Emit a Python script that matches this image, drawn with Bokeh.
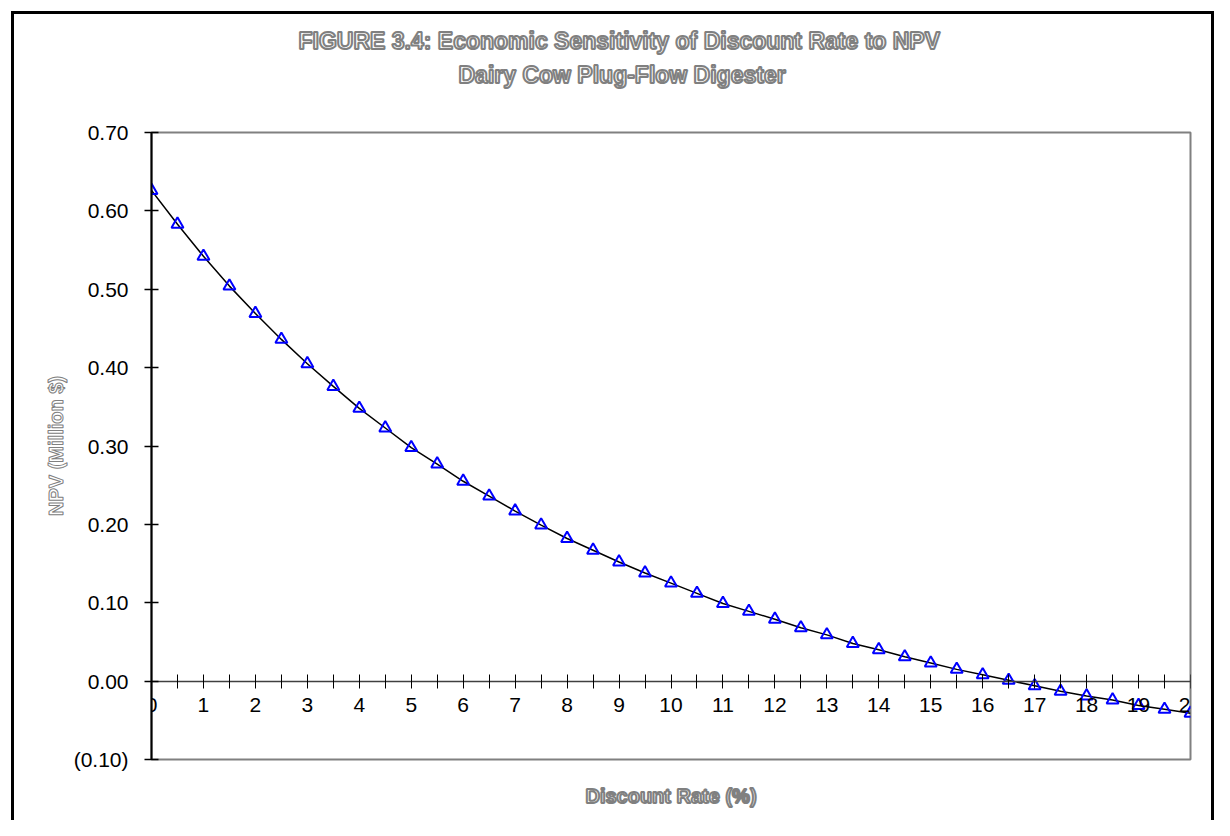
from bokeh.plotting import figure
from bokeh.models import (Range1d, LinearAxis, FixedTicker, CustomJSTickFormatter, Title)
from bokeh.embed import file_html
from bokeh.resources import INLINE

discount_rate = [0, 0.5, 1, 1.5, 2, 2.5, 3, 3.5, 4, 4.5, 5, 5.5, 6, 6.5, 7, 7.5,
                 8, 8.5, 9, 9.5, 10, 10.5, 11, 11.5, 12, 12.5, 13, 13.5, 14, 14.5,
                 15, 15.5, 16, 16.5, 17, 17.5, 18, 18.5, 19, 19.5, 20]
npv = [0.626, 0.583, 0.542, 0.504, 0.469, 0.436, 0.405, 0.376, 0.348, 0.323,
       0.298, 0.277, 0.255, 0.236, 0.217, 0.199, 0.182, 0.167, 0.152, 0.138,
       0.125, 0.112, 0.099, 0.089, 0.079, 0.068, 0.059, 0.048, 0.040, 0.031,
       0.023, 0.015, 0.008, 0.001, -0.006, -0.013, -0.019, -0.024, -0.031,
       -0.036, -0.041]
x_major_ticks = [0, 1, 2, 3, 4, 5, 6, 7, 8, 9, 10, 11, 12, 13, 14, 15, 16, 17, 18, 19, 20]
x_minor_ticks = [0.5, 1.5, 2.5, 3.5, 4.5, 5.5, 6.5, 7.5, 8.5, 9.5, 10.5, 11.5,
                 12.5, 13.5, 14.5, 15.5, 16.5, 17.5, 18.5, 19.5]
y_ticks = [-0.1, 0.0, 0.1, 0.2, 0.3, 0.4, 0.5, 0.6, 0.7]

title_main = "FIGURE 3.4: Economic Sensitivity of Discount Rate to NPV"
title_sub = "Dairy Cow Plug-Flow Digester"
x_label = "Discount Rate (%)"
y_label = "NPV (Million $)"

FONT = "Liberation Sans"
OUTLINE = "#808080"

p = figure(width=1214, height=820, output_backend="svg", toolbar_location=None,
           x_range=Range1d(0, 20), y_range=Range1d(-0.1, 0.7),
           x_axis_location=None, y_axis_location=None,
           min_border_left=151, min_border_right=24,
           min_border_top=132, min_border_bottom=61)
p.background_fill_color = "white"
p.border_fill_color = None
p.outline_line_color = OUTLINE
p.outline_line_width = 2
p.grid.visible = False
# outer chart border (drawn as the page element's background behind the transparent border area)
p.styles = {
    "background": (
        "linear-gradient(#000,#000) 11px 11px / 3px calc(100% - 11px) no-repeat, "
        "linear-gradient(#000,#000) 11px 11px / 1203px 3px no-repeat, "
        "linear-gradient(#000,#000) 1211px 11px / 3px calc(100% - 11px) no-repeat, "
        "#ffffff"
    )
}

# Y axis
yaxis = LinearAxis(ticker=FixedTicker(ticks=y_ticks),
                   formatter=CustomJSTickFormatter(code="""
                       return tick < -1e-9 ? "(" + Math.abs(tick).toFixed(2) + ")" : Math.abs(tick).toFixed(2);
                   """))
yaxis.major_tick_in = 7
yaxis.major_tick_out = 7
yaxis.minor_tick_in = 0
yaxis.minor_tick_out = 0
yaxis.axis_line_color = "black"
yaxis.axis_line_width = 2
yaxis.major_tick_line_color = "black"
yaxis.major_tick_line_width = 1.5
yaxis.major_label_text_font = FONT
yaxis.major_label_text_font_size = "21px"
yaxis.major_label_text_color = "black"
yaxis.major_label_standoff = 16
yaxis.axis_label = y_label
yaxis.axis_label_text_font = FONT
yaxis.axis_label_text_font_size = "20px"
yaxis.axis_label_text_font_style = "bold"
yaxis.axis_label_text_color = "white"
yaxis.axis_label_text_outline_color = OUTLINE
yaxis.axis_label_standoff = 4
p.add_layout(yaxis, "left")

# X axis crossing at y = 0
xaxis = LinearAxis(fixed_location=0,
                   ticker=FixedTicker(ticks=x_major_ticks, minor_ticks=x_minor_ticks))
xaxis.major_tick_in = 7
xaxis.major_tick_out = 7
xaxis.minor_tick_in = 7
xaxis.minor_tick_out = 7
xaxis.axis_line_color = "#404040"
xaxis.axis_line_width = 1.5
xaxis.major_tick_line_color = "black"
xaxis.minor_tick_line_color = "black"
xaxis.major_label_text_font = FONT
xaxis.major_label_text_font_size = "21px"
xaxis.major_label_text_color = "black"
xaxis.major_label_standoff = 10
p.add_layout(xaxis, "below")

# X axis title at the bottom of the plot area
xlab = LinearAxis(ticker=FixedTicker(ticks=[]))
xlab.axis_line_color = None
xlab.major_tick_line_color = None
xlab.minor_tick_line_color = None
xlab.axis_label = x_label
xlab.axis_label_text_font = FONT
xlab.axis_label_text_font_size = "20px"
xlab.axis_label_text_font_style = "bold"
xlab.axis_label_text_color = "white"
xlab.axis_label_text_outline_color = OUTLINE
xlab.axis_label_standoff = 25
p.add_layout(xlab, "below")

# empty spacer axis between the plot area and the titles
spacer = LinearAxis(ticker=FixedTicker(ticks=[]))
spacer.axis_line_color = None
spacer.major_tick_line_color = None
spacer.minor_tick_line_color = None
spacer.major_tick_in = 0
spacer.major_tick_out = 0
spacer.axis_label = " "
spacer.axis_label_text_font_size = "10px"
spacer.axis_label_standoff = 31
p.add_layout(spacer, "above")

# Titles (left-aligned with offsets so they centre over the whole chart area)
sub = Title(text=title_sub, align="left", offset=307, standoff=0,
            text_font=FONT, text_font_size="23px", text_font_style="bold",
            text_color="white", text_outline_color=OUTLINE)
main = Title(text=title_main, align="left", offset=147, standoff=11,
             text_font=FONT, text_font_size="23px", text_font_style="bold",
             text_color="white", text_outline_color=OUTLINE)
p.add_layout(sub, "above")
p.add_layout(main, "above")

# Data
p.line(discount_rate, npv, line_color="black", line_width=1.5)
p.scatter(discount_rate, npv, marker="triangle", size=12, fill_color=None,
          line_color="blue", line_width=2)

open("out.html", "w").write(file_html(p, INLINE))
